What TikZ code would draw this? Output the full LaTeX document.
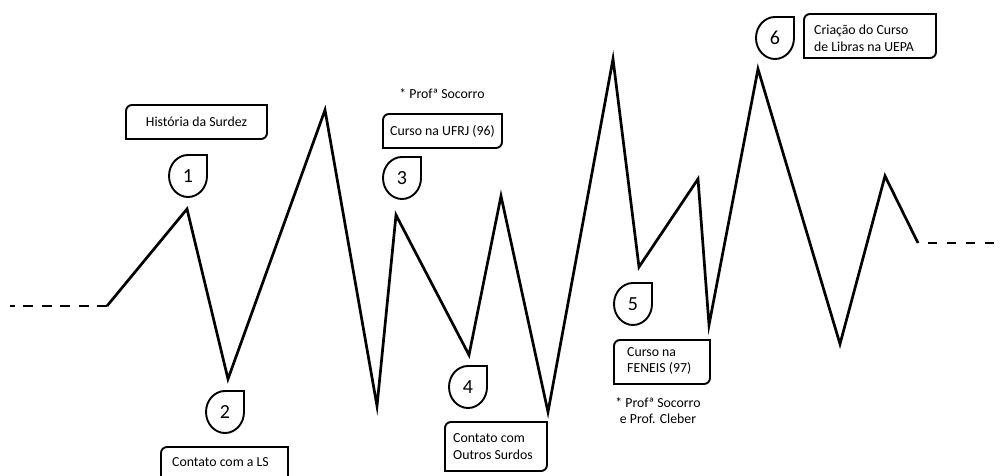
\documentclass[tikz,border=0pt]{standalone}
\usepackage{fontspec}
\setmainfont{Carlito}
\begin{document}
\begin{tikzpicture}[x=1pt,y=1pt,
  zig/.style={line width=2.7pt},
  dashline/.style={line width=2.4pt},
  boxshape/.style={inner sep=0pt,outer sep=0pt,draw=none},
  boxline/.style={line width=1.9pt},
  dropline/.style={line width=1.9pt},
  drop/.style={inner sep=0pt,outer sep=0pt,minimum width=38pt,minimum height=42pt,
    font=\fontsize{20}{20}\selectfont},
  txt/.style={inner sep=0pt,font=\fontsize{13.8}{16.5}\selectfont,align=left},
  note/.style={inner sep=0pt,font=\fontsize{13.8}{15.5}\selectfont,align=center},
]
\useasboundingbox (0,0) rectangle (1001,476);

% vertices of the timeline
\coordinate (p0) at (10,170);
\coordinate (p1) at (107,170);
\coordinate (p2) at (187,267);
\coordinate (p3) at (228,97);
\coordinate (p4) at (325,366);
\coordinate (p5) at (377,70);
\coordinate (p6) at (396,261);
\coordinate (p7) at (469,121);
\coordinate (p8) at (501,280);
\coordinate (p9) at (548,64);
\coordinate (p10) at (613,417);
\coordinate (p11) at (639,209);
\coordinate (p12) at (698,297);
\coordinate (p13) at (709,151);
\coordinate (p14) at (758,407);
\coordinate (p15) at (840,132);
\coordinate (p16) at (885,300);
\coordinate (p17) at (918,233);
\coordinate (p18) at (995,233);

\draw[zig] (p1) -- (p2) -- (p3) -- (p4) -- (p5) -- (p6) -- (p7) -- (p8) -- (p9)
  -- (p10) -- (p11) -- (p12) -- (p13) -- (p14) -- (p15) -- (p16) -- (p17);
\draw[dashline,dash pattern=on 10pt off 8.5pt] (p1) -- (p0);
\draw[dashline,dash pattern=on 9pt off 10pt,dash phase=9pt] (p17) -- (p18);

% numbered markers
\node[drop] (d1) at (188,300) {1};
\node[drop] (d2) at (225,64) {2};
\node[drop] (d3) at (402,298) {3};
\node[drop] (d4) at (468,89) {4};
\node[drop] (d5) at (633,172) {5};
\node[drop] (d6) at (775,438) {6};
\foreach \d in {d1,d2,d3,d4,d5,d6}
  \draw[dropline] (\d.north) -- (\d.north east) -- (\d.east)
    arc[start angle=0,end angle=-270,x radius=19pt,y radius=21pt] -- cycle;

% event boxes
\node[boxshape,minimum width=141pt,minimum height=34pt] (b1) at (196.5,354) {};
\node[boxshape,minimum width=127pt,minimum height=36pt] (b2) at (224.5,11) {};
\node[boxshape,minimum width=119pt,minimum height=34pt] (b3) at (442.5,345) {};
\node[boxshape,minimum width=102pt,minimum height=49pt] (b4) at (496,29.5) {};
\node[boxshape,minimum width=96pt,minimum height=44pt] (b5) at (662,114) {};
\node[boxshape,minimum width=132pt,minimum height=44pt] (b6) at (870,440) {};
\foreach \b in {b1,b2,b3,b4,b5,b6}
  \draw[boxline] (\b.north east) -- ([yshift=6pt]\b.south east)
    arc[start angle=0,end angle=-90,radius=6pt] -- (\b.south west)
    -- ([yshift=-6pt]\b.north west) arc[start angle=180,end angle=90,radius=6pt] -- cycle;

% box texts
\node[txt] (t1) at (b1.center) {História da Surdez};
\node[txt,anchor=west] (t2) at (172,14) {Contato com a LS};
\node[txt] (t3) at (b3.center) {Curso na UFRJ (96)};
\node[txt,anchor=west] (t4) at (453,29.5) {Contato com\\Outros Surdos};
\node[txt,anchor=west] (t5) at (627,115) {Curso na\\FENEIS (97)};
\node[txt,anchor=west] (t6) at (814,437.5) {Criação do Curso\\de Libras na UEPA};

% side notes
\node[note] (n3) at (442,382) {* Profª Socorro};
\node[note] (n5) at (658,65.5) {* Profª Socorro\\e Prof. Cleber};
\end{tikzpicture}
\end{document}
